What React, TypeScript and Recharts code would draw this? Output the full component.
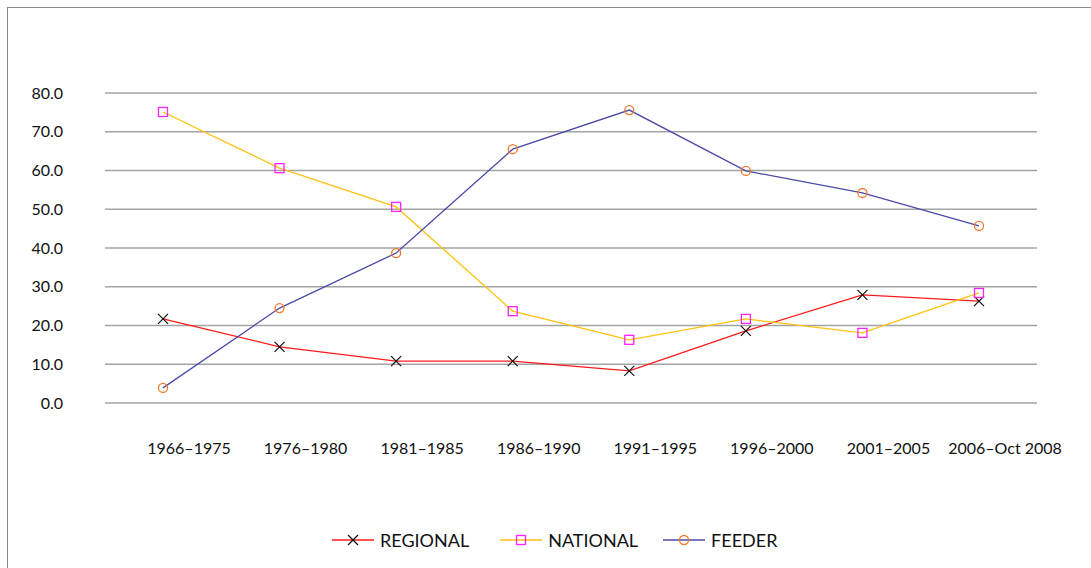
import React from 'react';
import { LineChart, Line, XAxis, YAxis, CartesianGrid } from 'recharts';

const periods = ['1966–1975', '1976–1980', '1981–1985', '1986–1990', '1991–1995', '1996–2000', '2001–2005', '2006–Oct 2008'];
const regional = [21.7, 14.5, 10.8, 10.8, 8.3, 18.6, 27.9, 26.3];
const national = [75.1, 60.6, 50.6, 23.7, 16.3, 21.7, 18.1, 28.4];
const feeder = [3.9, 24.5, 38.7, 65.5, 75.6, 59.9, 54.2, 45.7];
const yTicks = [0, 10, 20, 30, 40, 50, 60, 70, 80];

const data = periods.map((p, i) => ({
  period: p,
  REGIONAL: regional[i],
  NATIONAL: national[i],
  FEEDER: feeder[i],
}));

const FONT = 'Lato, "Open Sans", sans-serif';

// marker shapes, drawn around (cx, cy)
const Cross = ({ cx, cy, s = 5 }: any) => (
  <g stroke="#111" strokeWidth={1.2}>
    <line x1={cx - s} y1={cy - s} x2={cx + s} y2={cy + s} />
    <line x1={cx - s} y1={cy + s} x2={cx + s} y2={cy - s} />
  </g>
);
const Square = ({ cx, cy, s = 4.5 }: any) => (
  <rect x={cx - s} y={cy - s} width={s * 2} height={s * 2} fill="none" stroke="#ff22ff" strokeWidth={1.3} />
);
const Circle = ({ cx, cy, r = 4.5 }: any) => (
  <circle cx={cx} cy={cy} r={r} fill="none" stroke="#f0782a" strokeWidth={1.3} />
);

const series = [
  { key: 'REGIONAL', color: '#ff1a1a', Marker: Cross },
  { key: 'NATIONAL', color: '#ffc20e', Marker: Square },
  { key: 'FEEDER', color: '#4a4aa8', Marker: Circle },
];

const LegendBox = () => (
  <div style={{ position: 'absolute', left: 332, top: 529, display: 'flex', fontFamily: FONT, fontSize: 18, color: '#111' }}>
    {series.map(({ key, color, Marker }, i) => (
      <div key={key} style={{ display: 'flex', alignItems: 'center', marginRight: i === 0 ? 31 : 25 }}>
        <svg width={42} height={16}>
          <line x1={0} y1={8} x2={42} y2={8} stroke={color} strokeWidth={1.5} />
          <Marker cx={21} cy={8} />
        </svg>
        <span style={{ marginLeft: 6 }}>{key}</span>
      </div>
    ))}
  </div>
);

export default function App() {
  return (
    <div style={{ position: 'fixed', left: 0, top: 0, width: 1091, height: 568, overflow: 'hidden', background: '#fff' }}>
      <div style={{ position: 'absolute', left: 7, top: 7, width: 1200, height: 700, borderLeft: '1.5px solid #8a8a8a', borderTop: '1.5px solid #8a8a8a' }} />
      <div style={{ position: 'absolute', left: 0, top: 0 }}>
        <LineChart width={1091} height={568} data={data} margin={{ top: 93, right: 54, bottom: 105, left: 0 }}>
          <CartesianGrid vertical={false} stroke="#a3a3a3" strokeWidth={1.3} />
          <XAxis
            dataKey="period"
            axisLine={false}
            tickLine={false}
            tickSize={0}
            tickMargin={40}
            height={60}
            padding={{ left: 58, right: 58 }}
            interval={0}
            tick={{ fontFamily: FONT, fontSize: 16, fill: '#111', dx: 26 }}
          />
          <YAxis
            domain={[0, 80]}
            ticks={yTicks}
            width={105}
            axisLine={false}
            tickLine={false}
            tickSize={0}
            tickMargin={42}
            tickFormatter={(v: number) => v.toFixed(1)}
            tick={{ fontFamily: FONT, fontSize: 16, fill: '#111' }}
          />
          {series.map(({ key, color, Marker }) => (
            <Line
              key={key}
              dataKey={key}
              stroke={color}
              strokeWidth={1.3}
              isAnimationActive={false}
              dot={(p: any) => <Marker key={`${key}-${p.index}`} cx={p.cx} cy={p.cy} />}
              activeDot={false}
            />
          ))}
        </LineChart>
      </div>
      <LegendBox />
    </div>
  );
}
